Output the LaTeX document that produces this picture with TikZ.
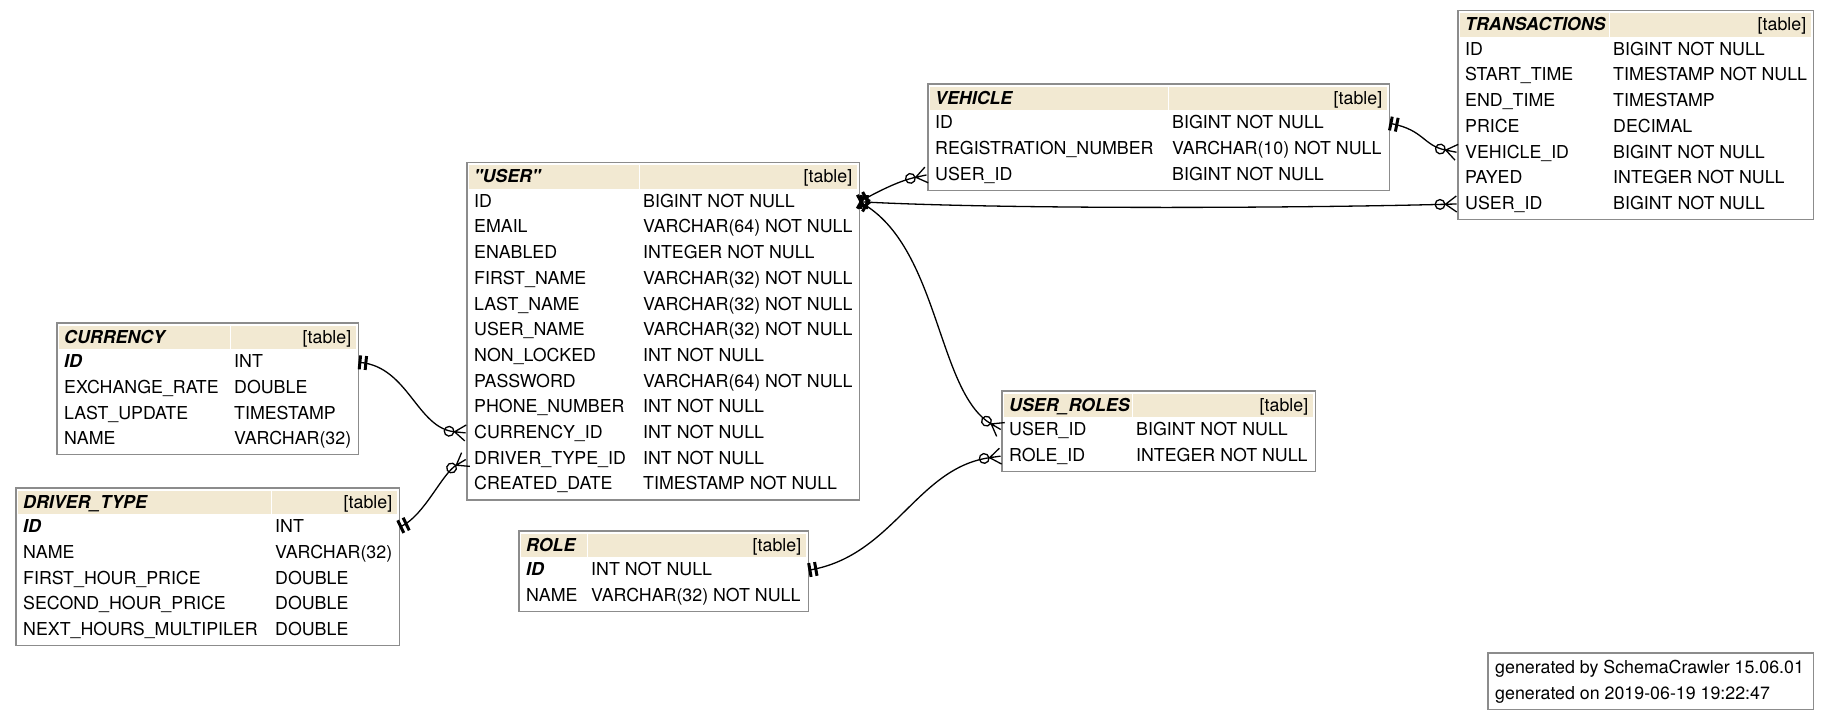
\documentclass[tikz,border=0pt]{standalone}
\usepackage{fontspec}
\setmainfont{TeX Gyre Heros}[Ligatures=TeXOff]
\usepackage{tikz}
\usetikzlibrary{arrows.meta,positioning,fit}
\definecolor{tblhead}{HTML}{F2E9D2}
\definecolor{tblline}{HTML}{8C8C8C}
\newlength{\colw}
\newlength{\tw}
\newcommand{\pk}[1]{\textbf{\textit{#1}}}
\newcommand{\fld}[2]{\makebox[\tw][l]{\makebox[\colw][l]{#1}#2}}
\newcommand{\seam}{\textcolor{white}{\rule[-6.15pt]{0.8pt}{23.3pt}}}
\newcommand{\tblname}[1]{\makebox[\tw]{\makebox[\dimexpr\colw-4pt\relax][l]{\pk{#1}}\seam\hfill[table]}}
% crow's foot for the "many" side
\pgfdeclarearrow{
  name = Crow,
  parameters = {\the\pgfarrowlength,\the\pgfarrowwidth},
  setup code = {
    \pgfarrowssettipend{0pt}
    \pgfarrowssetlineend{-\pgfarrowlength}
    \pgfarrowssetbackend{-\pgfarrowlength}
    \pgfarrowssavethe\pgfarrowlength
    \pgfarrowssavethe\pgfarrowwidth
  },
  drawing code = {
    \pgfpathmoveto{\pgfqpoint{0pt}{.5\pgfarrowwidth}}
    \pgfpathlineto{\pgfqpoint{-\pgfarrowlength}{0pt}}
    \pgfpathlineto{\pgfqpoint{0pt}{-.5\pgfarrowwidth}}
    \pgfpathmoveto{\pgfqpoint{-\pgfarrowlength}{0pt}}
    \pgfpathlineto{\pgfqpoint{0pt}{0pt}}
    \pgfusepathqstroke
  },
  defaults = {length = 11pt, width = 15pt}
}
\tikzset{one/.tip={Bar[width=14pt,line width=3pt,sep=3pt]Bar[width=14pt,line width=3pt]},
         many/.tip={Circle[open,length=11pt]Crow[length=11pt,width=16pt,sep=1.5pt]}}

\begin{document}
\begin{tikzpicture}[x=1pt, y=1pt,
              field/.style={inner xsep=7pt, inner ysep=0pt, minimum height=25.3pt,
                            text height=14.5pt, text depth=3.5pt,
                            font=\fontsize{17.8}{21}\selectfont},
              title/.style={field, inner xsep=5pt, minimum height=23.3pt,
                            fill=tblhead, anchor=north west},
              tablebox/.style={draw=tblline, line width=1.2pt, inner xsep=0pt, inner ysep=2.7pt},
              fk/.style={line width=1.3pt, one-many},
             ]
\useasboundingbox (0,0) rectangle (1829,717);

% TRANSACTIONS
\setlength{\tw}{341pt}\setlength{\colw}{148pt}
\node[title] (trans) at (1460,703.8) {\tblname{TRANSACTIONS}};
\node[field, below=0pt of trans] (trans-id) {\fld{ID}{BIGINT NOT NULL}};
\node[field, below=0pt of trans-id] (trans-start) {\fld{START\_TIME}{TIMESTAMP NOT NULL}};
\node[field, below=0pt of trans-start] (trans-end) {\fld{END\_TIME}{TIMESTAMP}};
\node[field, below=0pt of trans-end] (trans-price) {\fld{PRICE}{DECIMAL}};
\node[field, below=0pt of trans-price] (trans-vehicleid) {\fld{VEHICLE\_ID}{BIGINT NOT NULL}};
\node[field, below=0pt of trans-vehicleid] (trans-payed) {\fld{PAYED}{INTEGER NOT NULL}};
\node[field, below=0pt of trans-payed] (trans-userid) {\fld{USER\_ID}{BIGINT NOT NULL}};
\node[tablebox, fit=(trans)(trans-userid)] (trans-box) {};

% VEHICLE
\setlength{\tw}{447pt}\setlength{\colw}{237pt}
\node[title] (vehicle) at (930,630.3) {\tblname{VEHICLE}};
\node[field, below=0pt of vehicle] (vehicle-id) {\fld{ID}{BIGINT NOT NULL}};
\node[field, below=0pt of vehicle-id] (vehicle-reg) {\fld{REGISTRATION\_NUMBER}{VARCHAR(10) NOT NULL}};
\node[field, below=0pt of vehicle-reg] (vehicle-userid) {\fld{USER\_ID}{BIGINT NOT NULL}};
\node[tablebox, fit=(vehicle)(vehicle-userid)] (vehicle-box) {};

% "USER"
\setlength{\tw}{378pt}\setlength{\colw}{169pt}
\node[title] (user) at (469,551.8) {\tblname{"USER"}};
\node[field, below=0pt of user] (user-id) {\fld{ID}{BIGINT NOT NULL}};
\node[field, below=0pt of user-id] (user-email) {\fld{EMAIL}{VARCHAR(64) NOT NULL}};
\node[field, below=0pt of user-email] (user-enabled) {\fld{ENABLED}{INTEGER NOT NULL}};
\node[field, below=0pt of user-enabled] (user-first) {\fld{FIRST\_NAME}{VARCHAR(32) NOT NULL}};
\node[field, below=0pt of user-first] (user-last) {\fld{LAST\_NAME}{VARCHAR(32) NOT NULL}};
\node[field, below=0pt of user-last] (user-name) {\fld{USER\_NAME}{VARCHAR(32) NOT NULL}};
\node[field, below=0pt of user-name] (user-locked) {\fld{NON\_LOCKED}{INT NOT NULL}};
\node[field, below=0pt of user-locked] (user-password) {\fld{PASSWORD}{VARCHAR(64) NOT NULL}};
\node[field, below=0pt of user-password] (user-phone) {\fld{PHONE\_NUMBER}{INT NOT NULL}};
\node[field, below=0pt of user-phone] (user-currency) {\fld{CURRENCY\_ID}{INT NOT NULL}};
\node[field, below=0pt of user-currency] (user-drivertype) {\fld{DRIVER\_TYPE\_ID}{INT NOT NULL}};
\node[field, below=0pt of user-drivertype] (user-created) {\fld{CREATED\_DATE}{TIMESTAMP NOT NULL}};
\node[tablebox, fit=(user)(user-created)] (user-box) {};

% CURRENCY
\setlength{\tw}{287pt}\setlength{\colw}{170pt}
\node[title] (currency) at (59,391.3) {\tblname{CURRENCY}};
\node[field, below=0pt of currency] (currency-id) {\fld{\pk{ID}}{INT}};
\node[field, below=0pt of currency-id] (currency-rate) {\fld{EXCHANGE\_RATE}{DOUBLE}};
\node[field, below=0pt of currency-rate] (currency-update) {\fld{LAST\_UPDATE}{TIMESTAMP}};
\node[field, below=0pt of currency-update] (currency-name) {\fld{NAME}{VARCHAR(32)}};
\node[tablebox, fit=(currency)(currency-name)] (currency-box) {};

% DRIVER_TYPE
\setlength{\tw}{369pt}\setlength{\colw}{252pt}
\node[title] (drivertype) at (18,226.3) {\tblname{DRIVER\_TYPE}};
\node[field, below=0pt of drivertype] (drivertype-id) {\fld{\pk{ID}}{INT}};
\node[field, below=0pt of drivertype-id] (drivertype-name) {\fld{NAME}{VARCHAR(32)}};
\node[field, below=0pt of drivertype-name] (drivertype-first) {\fld{FIRST\_HOUR\_PRICE}{DOUBLE}};
\node[field, below=0pt of drivertype-first] (drivertype-second) {\fld{SECOND\_HOUR\_PRICE}{DOUBLE}};
\node[field, below=0pt of drivertype-second] (drivertype-next) {\fld{NEXT\_HOURS\_MULTIPILER}{DOUBLE}};
\node[tablebox, fit=(drivertype)(drivertype-next)] (drivertype-box) {};

% ROLE
\setlength{\tw}{275pt}\setlength{\colw}{65pt}
\node[title] (role) at (521,183.3) {\tblname{ROLE}};
\node[field, below=0pt of role] (role-id) {\fld{\pk{ID}}{INT NOT NULL}};
\node[field, below=0pt of role-id] (role-name) {\fld{NAME}{VARCHAR(32) NOT NULL}};
\node[tablebox, fit=(role)(role-name)] (role-box) {};

% USER_ROLES
\setlength{\tw}{299pt}\setlength{\colw}{127pt}
\node[title] (ur) at (1004,323.3) {\tblname{USER\_ROLES}};
\node[field, below=0pt of ur] (ur-userid) {\fld{USER\_ID}{BIGINT NOT NULL}};
\node[field, below=0pt of ur-userid] (ur-roleid) {\fld{ROLE\_ID}{INTEGER NOT NULL}};
\node[tablebox, fit=(ur)(ur-roleid)] (ur-box) {};

% footer
\setlength{\tw}{311pt}
\node[field, anchor=north west] (foot-by) at (1488,61.5) {\makebox[\tw][l]{generated by SchemaCrawler 15.06.01}};
\node[field, below=0pt of foot-by] (foot-on) {\makebox[\tw][l]{generated on 2019-06-19 19:22:47}};
\node[tablebox, inner ysep=2.5pt, fit=(foot-by)(foot-on)] (foot-box) {};

% relations
\draw[fk] (user-id.east) .. controls +(22,12) and +(-28,-6) .. (vehicle-userid.west);
\draw[fk] (user-id.east) .. controls +(150,-8) and +(-150,-4) .. (trans-userid.west);
\draw[fk] (user-id.east) .. controls +(80,-45) and +(-65,38) .. (ur-userid.west);
\draw[fk] (vehicle-id.east) .. controls +(35,-7) and +(-35,7) .. (trans-vehicleid.west);
\draw[fk] (currency-id.east) .. controls +(50,-5) and +(-50,5) .. (user-currency.west);
\draw[fk] (drivertype-id.east) .. controls +(25,12) and +(-25,-15) .. (user-drivertype.west);
\draw[fk] (role-id.east) .. controls +(85,15) and +(-85,-12) .. (ur-roleid.west);
\end{tikzpicture}
\end{document}
